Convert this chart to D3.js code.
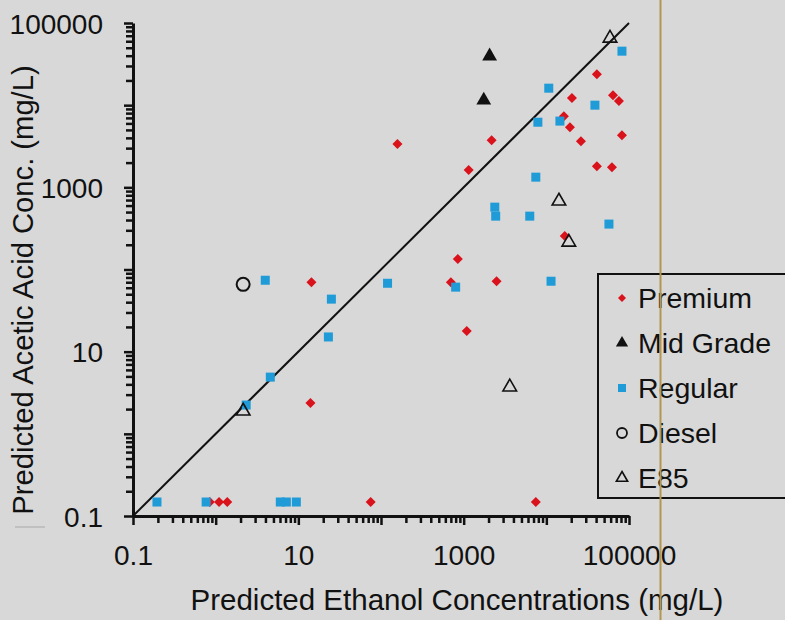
<!DOCTYPE html>
<html>
<head>
<meta charset="utf-8">
<script src="https://cdn.jsdelivr.net/npm/d3@7"></script>
<style>
  html, body { margin: 0; padding: 0; background: #d8d8d8; }
  svg { display: block; font-family: "Liberation Sans", Arial, sans-serif; }
</style>
</head>
<body>
<svg id="chart" width="785" height="620"></svg>
<script>
// data: [ethanol, acetic acid] in mg/L
var premium = [
    [0.85, 0.148], [158, 3360], [2180, 3750], [1150, 1620], [40900, 23800],
    [20400, 12200], [64000, 13200], [75600, 11200], [16300, 7350], [19300, 5400],
    [26200, 3650], [82200, 4300], [40900, 1810], [62200, 1760], [16700, 255],
    [850, 134], [700, 70], [2500, 72], [1090, 17.8], [14.4, 70],
    [14.0, 2.37], [1.10, 0.148], [1.38, 0.148], [75, 0.148], [7460, 0.148]
];
var midGrade = [[2060, 39500], [1750, 11500]];
var regular = [
    [82200, 45400], [10700, 16100], [38700, 10000], [7900, 6200], [14600, 6400],
    [7460, 1330], [2380, 574], [2440, 446], [6300, 446], [57200, 357],
    [120, 68], [800, 61], [11400, 72], [3.98, 74], [25.1, 43.6],
    [23.1, 15.1], [4.58, 4.9], [2.34, 2.24], [0.195, 0.148], [0.767, 0.148],
    [6.05, 0.148], [7.16, 0.148], [9.46, 0.148]
];
var diesel = [[2.15, 66]];
var e85 = [[58900, 65300], [14200, 680], [18700, 215], [3610, 3.71], [2.15, 1.89]];

var axisDomain = [0.1, 100000];
var tickLabels = [0.1, 10, 1000, 100000];
var legendNames = ["Premium", "Mid Grade", "Regular", "Diesel", "E85"];

var red = "#d9121b", blue = "#1f9bd7";

var svg = d3.select("#chart");

var x = d3.scaleLog().domain(axisDomain).range([133, 629]);
var y = d3.scaleLog().domain(axisDomain).range([516, 23]);

var isMajor = function (v) {
    var l = Math.log10(v);
    return Math.abs(l - Math.round(l)) < 1e-9;
};
var fmt = function (v) {
    return tickLabels.some(function (t) { return Math.abs(t - v) / t < 1e-9; }) ? String(v) : "";
};

//x axis
var gx = svg.append("g")
    .attr("transform", "translate(0,516)")
    .call(d3.axisBottom(x).tickValues(x.ticks()).tickFormat(fmt).tickSizeOuter(0));
gx.selectAll(".tick line").attr("y2", function (d) { return isMajor(d) ? 9 : 7; });
gx.selectAll(".tick text").attr("y", 29).attr("dy", "0.71em");

//y axis
var gy = svg.append("g")
    .attr("transform", "translate(133,0)")
    .call(d3.axisLeft(y).tickValues(y.ticks()).tickFormat(fmt).tickSizeOuter(0));
gy.selectAll(".tick line").attr("x2", function (d) { return isMajor(d) ? -9 : -7; });
gy.selectAll(".tick text").attr("x", -30).attr("dy", "0.36em");

svg.selectAll(".domain").attr("stroke", "#111").attr("stroke-width", 3);
svg.selectAll(".tick line").attr("stroke", "#111").attr("stroke-width", 2.5);
svg.selectAll(".tick text").attr("fill", "#111").style("font-size", "28px");

//1:1 line
svg.append("line")
    .attr("x1", x(axisDomain[0])).attr("y1", y(axisDomain[0]))
    .attr("x2", x(axisDomain[1])).attr("y2", y(axisDomain[1]))
    .attr("stroke", "#111").attr("stroke-width", 2);

//markers
var diamond = function (s) { return "M0," + (-s) + "L" + s + ",0L0," + s + "L" + (-s) + ",0Z"; };
var tri = d3.symbol().type(d3.symbolTriangle);

svg.append("g").selectAll("path")
    .data(premium).enter().append("path")
    .attr("transform", function (d) { return "translate(" + x(d[0]) + "," + y(d[1]) + ")"; })
    .attr("d", diamond(5))
    .attr("fill", red);

svg.append("g").selectAll("rect")
    .data(regular).enter().append("rect")
    .attr("x", function (d) { return x(d[0]) - 4.5; })
    .attr("y", function (d) { return y(d[1]) - 4.5; })
    .attr("width", 9).attr("height", 9)
    .attr("fill", blue);

svg.append("g").selectAll("path")
    .data(midGrade).enter().append("path")
    .attr("transform", function (d) { return "translate(" + x(d[0]) + "," + y(d[1]) + ")"; })
    .attr("d", tri.size(95))
    .attr("fill", "#111");

svg.append("g").selectAll("circle")
    .data(diesel).enter().append("circle")
    .attr("cx", function (d) { return x(d[0]); })
    .attr("cy", function (d) { return y(d[1]); })
    .attr("r", 6.5)
    .attr("fill", "none").attr("stroke", "#111").attr("stroke-width", 2);

svg.append("g").selectAll("path")
    .data(e85).enter().append("path")
    .attr("transform", function (d) { return "translate(" + x(d[0]) + "," + y(d[1]) + ")"; })
    .attr("d", tri.size(80))
    .attr("fill", "none").attr("stroke", "#111").attr("stroke-width", 1.6);

//axis titles
svg.append("text")
    .attr("x", 457).attr("y", 610)
    .attr("text-anchor", "middle")
    .style("font-size", "29.5px").attr("fill", "#111")
    .text("Predicted Ethanol Concentrations (mg/L)");

svg.append("text")
    .attr("transform", "translate(33,290) rotate(-90)")
    .attr("text-anchor", "middle")
    .style("font-size", "29.2px").attr("fill", "#111")
    .text("Predicted Acetic Acid Conc. (mg/L)");

//faint dash under the y title
svg.append("line")
    .attr("x1", 15).attr("x2", 45).attr("y1", 527).attr("y2", 527)
    .attr("stroke", "#a8a8a8").attr("stroke-width", 1);

//legend
var lg = svg.append("g").attr("transform", "translate(598,274)");
lg.append("rect")
    .attr("width", 200).attr("height", 224)
    .attr("fill", "none").attr("stroke", "#111").attr("stroke-width", 2);

var row = d3.scalePoint().domain(legendNames).range([24, 204]);
var items = lg.selectAll(".item")
    .data(legendNames).enter().append("g")
    .attr("transform", function (d) { return "translate(24," + row(d) + ")"; });

items.append("text")
    .attr("x", 16).attr("dy", "0.36em")
    .style("font-size", "28.5px").attr("fill", "#111")
    .text(function (d) { return d; });

items.each(function (d, i) {
    var g = d3.select(this);
    if (i == 0) {
        g.append("path").attr("d", diamond(4)).attr("fill", red);
    } else if (i == 1) {
        g.append("path").attr("d", tri.size(65)).attr("fill", "#111");
    } else if (i == 2) {
        g.append("rect").attr("x", -4).attr("y", -4).attr("width", 8).attr("height", 8).attr("fill", blue);
    } else if (i == 3) {
        g.append("circle").attr("r", 5).attr("fill", "none").attr("stroke", "#111").attr("stroke-width", 1.8);
    } else {
        g.append("path").attr("d", tri.size(55)).attr("fill", "none").attr("stroke", "#111").attr("stroke-width", 1.6);
    }
});

//thin vertical rule on the right
svg.append("line")
    .attr("x1", 660.5).attr("x2", 660.5).attr("y1", 0).attr("y2", 620)
    .attr("stroke", "#b39650").attr("stroke-width", 2);
</script>
</body>
</html>
